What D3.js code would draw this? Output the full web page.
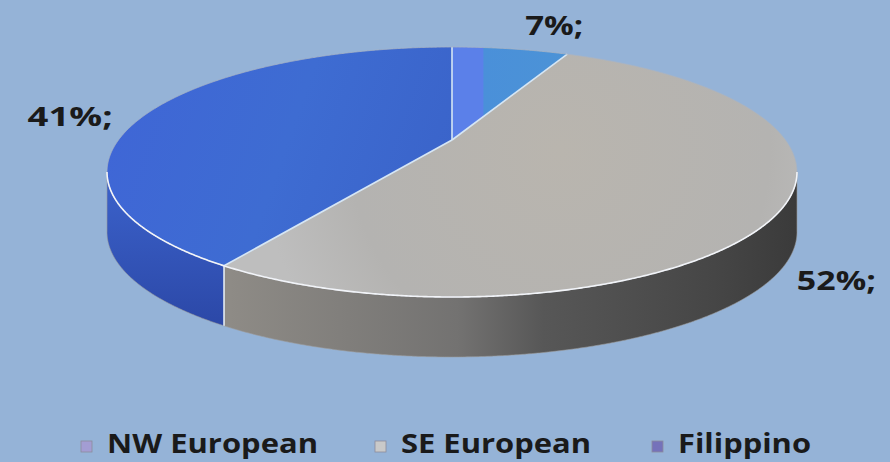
<!DOCTYPE html>
<html>
<head>
<meta charset="utf-8">
<script src="https://cdn.jsdelivr.net/npm/d3@7/dist/d3.min.js"></script>
<style>
  html, body { margin: 0; padding: 0; background: #95B3D7; }
  svg { display: block; }
</style>
</head>
<body>
<svg id="chart" width="890" height="462"></svg>
<script>
// Population shares by origin group
const categories = ["NW European", "SE European", "Filippino"];
const shares = [7, 52, 41];
const labelTexts = shares.map(v => v + "%;");

// Colours
const topColors = ["#4F8BDB", "#B6B4B0", "#3E69D0"];
const legendColors = ["#A39DD3", "#C9C9C9", "#7572BA"];

const W = 890, H = 462;
const svg = d3.select("#chart");

// Perspective tilt of the disc: screen = centre + (A*u, B*v) / (1 - e*v)
const cam = { cx: 452, cy: 140, A: 333.5, B: 116.8, e: 0.256, depth: 60 };

function proj(phi, r = 1, dy = 0) {
  const u = r * Math.sin(phi), v = -r * Math.cos(phi);
  const w = 1 - cam.e * v;
  return [cam.cx + cam.A * u / w, cam.cy + cam.B * v / w + dy];
}
function arcPts(a0, a1, r = 1, dy = 0) {
  const n = Math.max(2, Math.ceil(Math.abs(a1 - a0) / 0.005));
  return d3.range(n + 1).map(i => proj(a0 + (a1 - a0) * i / n, r, dy));
}
const line = d3.line();

const pie = d3.pie().sort(null).value(d => d)(shares);

// Front half of the rim, between the two horizontal extremes
const phiL = Math.acos(-cam.e), phiR = 2 * Math.PI - phiL;

const defs = svg.append("defs");
const gSE = defs.append("linearGradient").attr("id", "sideSE")
  .attr("gradientUnits", "userSpaceOnUse").attr("x1", 230).attr("x2", 800).attr("y1", 0).attr("y2", 0);
[[0, "#8E8B86"], [0.4, "#737271"], [0.55, "#575757"], [0.85, "#464646"], [1, "#3A3A3A"]]
  .forEach(([o, c]) => gSE.append("stop").attr("offset", o).attr("stop-color", c));
const gFil = defs.append("linearGradient").attr("id", "sideFil")
  .attr("gradientUnits", "userSpaceOnUse").attr("x1", 0).attr("x2", 0).attr("y1", 190).attr("y2", 330);
[[0, "#3A60C8"], [1, "#2B47A6"]].forEach(([o, c]) => gFil.append("stop").attr("offset", o).attr("stop-color", c));
const gNW = defs.append("linearGradient").attr("id", "topNW")
  .attr("gradientUnits", "userSpaceOnUse").attr("x1", 452).attr("x2", 580).attr("y1", 0).attr("y2", 0);
[[0, "#5B80E9"], [0.24, "#5B80E9"], [0.25, "#4A90D9"], [1, "#4C93D6"]]
  .forEach(([o, c]) => gNW.append("stop").attr("offset", o).attr("stop-color", c));
const gTopSE = defs.append("radialGradient").attr("id", "topSE")
  .attr("gradientUnits", "userSpaceOnUse").attr("cx", 560).attr("cy", 150).attr("r", 300);
[[0, "#B9B5AE"], [0.7, "#B4B3B1"], [1, "#BEBEBE"]].forEach(([o, c]) => gTopSE.append("stop").attr("offset", o).attr("stop-color", c));
const gTopFil = defs.append("linearGradient").attr("id", "topFil")
  .attr("gradientUnits", "userSpaceOnUse").attr("x1", 110).attr("x2", 450).attr("y1", 100).attr("y2", 220);
[[0, "#3F66D6"], [0.5, "#3E6CD2"], [1, "#3A63C9"]].forEach(([o, c]) => gTopFil.append("stop").attr("offset", o).attr("stop-color", c));

const sideFill = ["#3F7FCC", "url(#sideSE)", "url(#sideFil)"];
const topFill = ["url(#topNW)", "url(#topSE)", "url(#topFil)"];

// Side walls of the front half
const sides = svg.append("g");
pie.forEach((s, i) => {
  const a0 = Math.max(s.startAngle, phiL), a1 = Math.min(s.endAngle, phiR);
  if (a1 <= a0) return;
  const pts = arcPts(a0, a1).concat(arcPts(a1, a0, 1, cam.depth));
  sides.append("path").attr("d", line(pts) + "Z")
    .attr("fill", sideFill[i]).attr("stroke", "#9A9A9A").attr("stroke-width", 0.6);
});
// Seams between side walls
pie.forEach(s => {
  const a = s.startAngle;
  if (a > phiL && a < phiR) {
    const p = proj(a);
    sides.append("line").attr("x1", p[0]).attr("y1", p[1]).attr("x2", p[0]).attr("y2", p[1] + cam.depth)
      .attr("stroke", "#E8F0F8").attr("stroke-width", 1.5);
  }
});

// Top faces
const tops = svg.append("g");
const centre = proj(0, 0);
pie.forEach((s, i) => {
  const pts = [centre].concat(arcPts(s.startAngle, s.endAngle));
  tops.append("path").attr("d", line(pts) + "Z")
    .attr("fill", topFill[i]).attr("stroke", "none");
});
// Slice boundaries on the top face
pie.forEach(s => {
  const p = proj(s.startAngle);
  tops.append("line").attr("x1", centre[0]).attr("y1", centre[1]).attr("x2", p[0]).attr("y2", p[1])
    .attr("stroke", "#D6E6F4").attr("stroke-width", 1.6);
});
// Rim outline: faint at the back, bright along the front edge
tops.append("path").attr("d", line(arcPts(0, 2 * Math.PI)) + "Z")
  .attr("fill", "none").attr("stroke", "#A8B4C4").attr("stroke-width", 0.8);
tops.append("path").attr("d", line(arcPts(phiL, phiR)))
  .attr("fill", "none").attr("stroke", "#F2F4F8").attr("stroke-width", 1.6);

// Value labels, placed off the rim at each slice's mid-angle
const labelNudge = [[44, -24], [51, 76], [-83, 6]];
const labelWidths = [58, 79, 85];
pie.forEach((s, i) => {
  const mid = (s.startAngle + s.endAngle) / 2;
  const p = proj(mid);
  svg.append("text")
    .attr("x", p[0] + labelNudge[i][0]).attr("y", p[1] + labelNudge[i][1])
    .attr("text-anchor", "middle").attr("dominant-baseline", "central")
    .attr("font-family", "'Open Sans', 'DejaVu Sans', sans-serif")
    .attr("font-weight", "bold").attr("font-size", 26)
    .attr("fill", "#1A1A1A")
    .attr("textLength", labelWidths[i]).attr("lengthAdjust", "spacingAndGlyphs")
    .text(labelTexts[i]);
});

// Legend
const legendWidths = [211, 190, 133];
const legend = svg.append("g");
let x = 81;
categories.forEach((c, i) => {
  legend.append("rect").attr("x", x).attr("y", 441).attr("width", 11).attr("height", 11)
    .attr("fill", legendColors[i]).attr("stroke", "#8C8C9C").attr("stroke-width", 0.8);
  legend.append("text").attr("x", x + 26).attr("y", 453)
    .attr("font-family", "'Open Sans', 'DejaVu Sans', sans-serif")
    .attr("font-weight", "bold").attr("font-size", 26)
    .attr("fill", "#1A1A1A")
    .attr("textLength", legendWidths[i]).attr("lengthAdjust", "spacingAndGlyphs")
    .text(c);
  x += 26 + legendWidths[i] + (i === 0 ? 57 : 61);
});
</script>
</body>
</html>
